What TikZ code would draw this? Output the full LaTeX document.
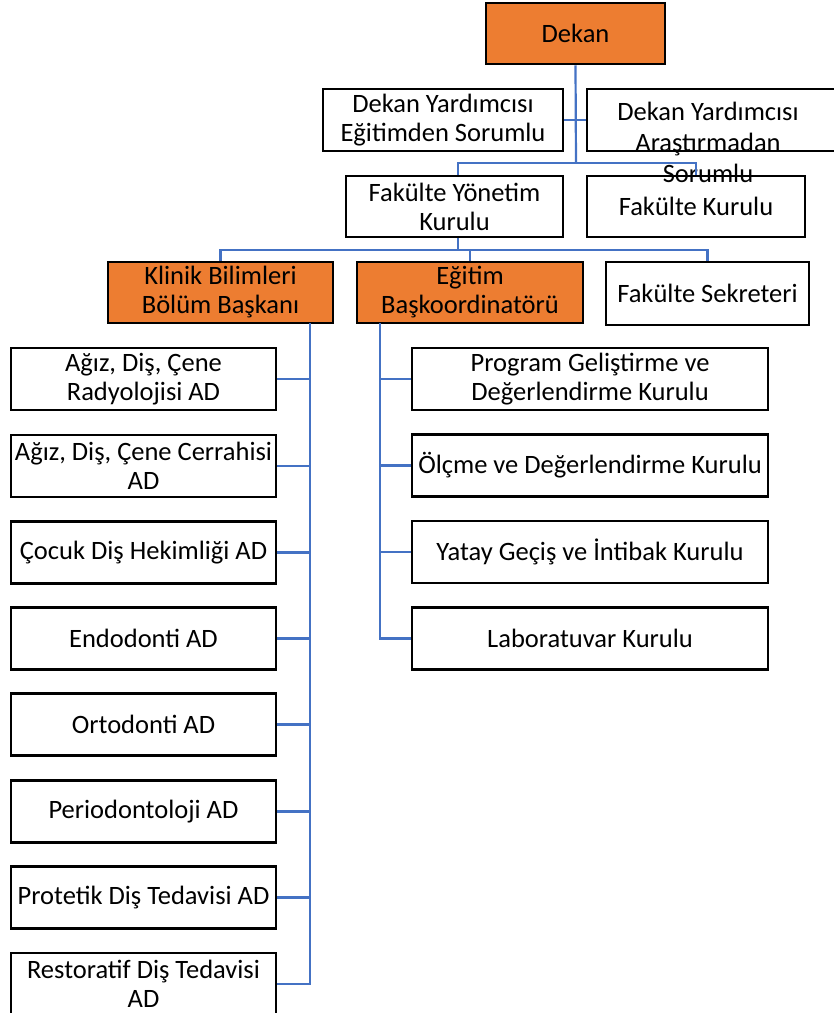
\documentclass[tikz,border=0pt]{standalone}
\usepackage{fontspec}
\setmainfont{Carlito}
\usepackage{xcolor}
\definecolor{headorange}{RGB}{237,125,49}
\definecolor{busblue}{RGB}{68,114,196}

\begin{document}
\begin{tikzpicture}[x=1pt,y=-1pt,
		unitbox/.style={draw=black,line width=2.5pt,fill=white,inner sep=0pt,
			minimum width=#1,minimum height=62pt,align=center,
			font=\fontsize{26.5}{29}\selectfont},
		unitbox/.default=240pt,
		headbox/.style={unitbox=#1,fill=headorange},
		headbox/.default=225pt,
		bus/.style={draw=busblue,line width=2.2pt}]
	\useasboundingbox (0,0) rectangle (834,1013);
	% top levels
	\node[headbox=179pt,minimum height=61pt] (dekan) at (575.5,33.5) {Dekan};
	\node[unitbox=240pt] (dyegitim) at (443,120) {Dekan Yardımcısı\\Eğitimden Sorumlu};
	\node[unitbox=250pt] (dyarastirma) at (712,120) {};
	\node[unitbox=217pt,minimum height=61pt] (fyk) at (454.5,206.5) {Fakülte Yönetim\\Kurulu};
	\node[unitbox=218pt,minimum height=61pt] (fk) at (696,206.5) {Fakülte Kurulu};
	\node[align=center,inner sep=0pt,font=\fontsize{26.5}{31}\selectfont] (dyarastirmatext) at (708,142) {Dekan Yardımcısı\\Araştırmadan\\Sorumlu};
	\node[headbox=225pt,minimum height=61pt] (klinik) at (220.5,292.5) {Klinik Bilimleri\\Bölüm Başkanı};
	\node[headbox=226pt,minimum height=61pt] (egitim) at (470,292.5) {Eğitim\\Başkoordinatörü};
	\node[unitbox=203pt,minimum height=63pt] (sekreter) at (707.5,293.5) {Fakülte Sekreteri};
	% anabilim dallari
	\node[unitbox=265pt] (ad1) at (143.5,379) {Ağız, Diş, Çene\\Radyolojisi AD};
	\node[unitbox=265pt] (ad2) at (143.5,466) {Ağız, Diş, Çene Cerrahisi\\AD};
	\node[unitbox=265pt] (ad3) at (143.5,552.5) {Çocuk Diş Hekimliği AD};
	\node[unitbox=265pt] (ad4) at (143.5,638.5) {Endodonti AD};
	\node[unitbox=265pt] (ad5) at (143.5,724.5) {Ortodonti AD};
	\node[unitbox=265pt] (ad6) at (143.5,811.5) {Periodontoloji AD};
	\node[unitbox=265pt] (ad7) at (143.5,897.5) {Protetik Diş Tedavisi AD};
	\node[unitbox=265pt] (ad8) at (143.5,984) {Restoratif Diş Tedavisi\\AD};
	% kurullar
	\node[unitbox=356pt] (kr1) at (590,379) {Program Geliştirme ve\\Değerlendirme Kurulu};
	\node[unitbox=356pt] (kr2) at (590,465.5) {Ölçme ve Değerlendirme Kurulu};
	\node[unitbox=356pt] (kr3) at (590,552) {Yatay Geçiş ve İntibak Kurulu};
	\node[unitbox=356pt] (kr4) at (590,638.5) {Laboratuvar Kurulu};
	% connectors
	\coordinate (j1) at (576,163);
	\coordinate (j2) at (458,250);
	\coordinate (kbus) at (310,323);
	\coordinate (ebus) at (380,323);
	\draw[bus] (dekan.south) -- (j1);
	\draw[bus] (dyegitim.east) -- (dyarastirma.west);
	\draw[bus] (fyk.north -| j2) |- (j1) -| (fk.north);
	\draw[bus] (fyk.south -| j2) -- (j2);
	\draw[bus] (klinik.north) |- (j2) -| (sekreter.north);
	\draw[bus] (j2) -| (egitim.north);
	\draw[bus] (kbus) |- (ad8.east);
	\draw[bus] (ad1.east) -- (ad1.east -| kbus);
	\draw[bus] (ad2.east) -- (ad2.east -| kbus);
	\draw[bus] (ad3.east) -- (ad3.east -| kbus);
	\draw[bus] (ad4.east) -- (ad4.east -| kbus);
	\draw[bus] (ad5.east) -- (ad5.east -| kbus);
	\draw[bus] (ad6.east) -- (ad6.east -| kbus);
	\draw[bus] (ad7.east) -- (ad7.east -| kbus);
	\draw[bus] (ebus) |- (kr4.west);
	\draw[bus] (kr1.west) -- (kr1.west -| ebus);
	\draw[bus] (kr2.west) -- (kr2.west -| ebus);
	\draw[bus] (kr3.west) -- (kr3.west -| ebus);
\end{tikzpicture}
\end{document}
